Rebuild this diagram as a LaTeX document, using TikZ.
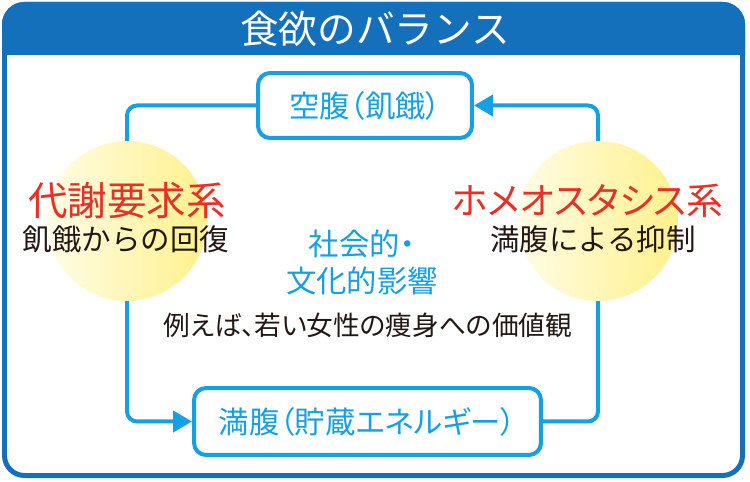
\documentclass[tikz,border=0pt]{standalone}
\usepackage{fontspec}
\setmainfont{Noto Sans CJK JP}
\newfontfamily\propjp[RawFeature=+palt]{Noto Sans CJK JP}
\usetikzlibrary{arrows.meta, positioning, calc}
\definecolor{frameblue}{RGB}{20,112,186}
\definecolor{flowcyan}{RGB}{22,160,228}
\definecolor{sysred}{RGB}{230,48,40}
\definecolor{inkblack}{RGB}{35,24,21}
\definecolor{ballpale}{RGB}{255,252,230}
\definecolor{ballyellow}{RGB}{255,241,140}

\begin{document}
\begin{tikzpicture}[x=0.02cm, y=-0.02cm, font=\fontsize{16.8pt}{21pt}\selectfont, text=inkblack]
    \tikzstyle{roundbox} = [rectangle, draw=flowcyan, line width=0.08cm, rounded corners=0.24cm, fill=white, text=flowcyan, inner sep=0pt, font=\propjp\fontsize{17.3pt}{17.3pt}\selectfont]
    \tikzstyle{flow} = [draw=flowcyan, line width=0.08cm, rounded corners=0.2cm, -{Triangle[length=0.38cm, width=0.42cm]}]
    \tikzstyle{sysball} = [circle, minimum size=3.2cm, inner sep=0pt, left color=ballpale, right color=ballyellow]
    \tikzstyle{syslabel} = [text=sysred, font=\fontsize{21pt}{21pt}\selectfont]

    \useasboundingbox (0,0) rectangle (750,482);
    % frame and title band
    \fill[white, rounded corners=0.4cm] (4.5,4.5) rectangle (742.5,475.5);
    \begin{scope}
        \clip (0,0) rectangle (750,55);
        \fill[frameblue, rounded corners=0.45cm] (2,2) rectangle (745,478);
    \end{scope}
    \draw[frameblue, line width=0.1cm, rounded corners=0.4cm] (4.5,4.5) rectangle (742.5,475.5);
    \node[text=white, font=\fontsize{22pt}{22pt}\selectfont] (title) at (375,29) {食欲のバランス};

    \node (hunger) [roundbox, minimum width=4.28cm, minimum height=1.3cm] at (365,105.5) {空腹（飢餓）};
    \node (full) [roundbox, minimum width=6.94cm, minimum height=1.34cm] at (367.5,421.5) {満腹（貯蔵エネルギー）};

    \coordinate (metab) at (127,221);
    \coordinate (homeo) at (598,221);
    \draw [flow] (hunger.west) -| (metab) |- (full.west);
    \draw [flow] (full.east) -| (homeo) |- (hunger.east);

    \node (metabball) [sysball] at (metab) {};
    \node (homeoball) [sysball] at (homeo) {};

    \node (metabname) [syslabel, font=\fontsize{22.5pt}{22.5pt}\selectfont] at (127,201) {代謝要求系};
    \node (metabnote) at (126,239) {飢餓からの回復};
    \node (homeoname) [syslabel, font=\propjp\fontsize{21pt}{21pt}\selectfont] at (588,201) {ホメオスタシス系};
    \node (homeonote) at (593,239) {満腹による抑制};
    \node (culture) [text=flowcyan, align=center, font=\propjp\fontsize{17.3pt}{21pt}\selectfont] at (362,262) {社会的・\\文化的影響};
    \node (example) [font=\propjp\fontsize{15.2pt}{15.2pt}\selectfont] at (368,325) {例えば、若い女性の痩身への価値観};
\end{tikzpicture}
\end{document}
